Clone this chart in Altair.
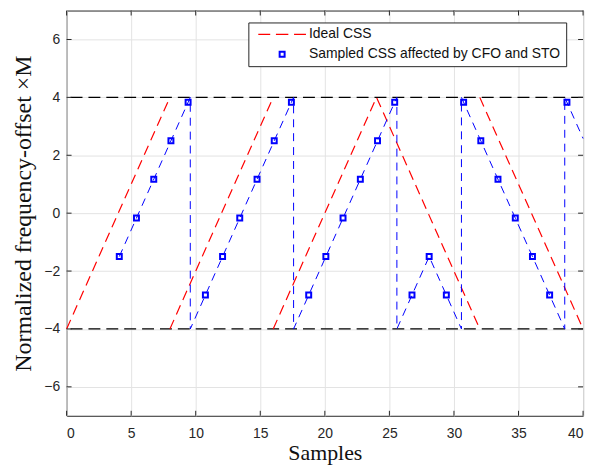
import altair as alt
import pandas as pd

# ---- data ----
red_x = [0, 8, 8, 16, 16, 24, 32, 32, 40]
red_y = [-4, 4, -4, 4, -4, 4, -4, 4, -4]
red_seg = [0, 0, 1, 1, 2, 2, 2, 3, 3]

blue_line_x = [4.08, 9.58, 9.58, 17.58, 17.58, 25.58, 25.58, 28.08, 30.58, 30.58, 38.58, 38.58, 40]
blue_line_y = [-1.5, 4, -4, 4, -4, 4, -4, -1.5, -4, 4, -4, 4, 2.58]

sample_x = [4.08, 5.41, 6.75, 8.08, 9.41, 10.75, 12.08, 13.41, 14.75, 16.08, 17.41,
            18.75, 20.08, 21.41, 22.75, 24.08, 25.41, 26.75, 28.08, 29.41, 30.75,
            32.08, 33.41, 34.75, 36.08, 37.41, 38.75]
sample_y = [-1.5, -0.17, 1.17, 2.5, 3.83, -2.83, -1.5, -0.17, 1.17, 2.5, 3.83,
            -2.83, -1.5, -0.17, 1.17, 2.5, 3.83, -2.83, -1.5, -2.83, 3.83,
            2.5, 1.17, -0.17, -1.5, -2.83, 3.83]

bound_y = [4, -4]
x_ticks = [0, 5, 10, 15, 20, 25, 30, 35, 40]
y_ticks = [-6, -4, -2, 0, 2, 4, 6]
series_names = ["Ideal CSS", "Sampled CSS affected by CFO and STO"]

W, H = 520, 408

red_df = pd.DataFrame({"x": red_x, "y": red_y, "seg": red_seg, "i": range(len(red_x))})
blue_df = pd.DataFrame({"x": blue_line_x, "y": blue_line_y, "i": range(len(blue_line_x))})
pts_df = pd.DataFrame({"x": sample_x, "y": sample_y, "series": series_names[1]})
bound_df = pd.DataFrame({"y": bound_y})
xt_df = pd.DataFrame({"x": x_ticks})
yt_df = pd.DataFrame({"y": y_ticks})

xscale = alt.Scale(domain=[0, 40], nice=False, zero=False)
yscale = alt.Scale(domain=[-7, 7], nice=False, zero=False)

xaxis = alt.Axis(values=x_ticks, title="Samples", grid=True, domain=False, ticks=False,
                 labelPadding=11, titlePadding=2, titleFontSize=22)
yaxis = alt.Axis(values=y_ticks, title="Normalized frequency-offset ×M", grid=True,
                 domain=False, ticks=False, labelPadding=7, titlePadding=8, titleFontSize=24)

base_x = alt.X("x:Q", scale=xscale, axis=xaxis)
base_y = alt.Y("y:Q", scale=yscale, axis=yaxis)

bounds = alt.Chart(bound_df).mark_rule(color="black", strokeDash=[12, 6], strokeWidth=1.2).encode(
    y=alt.Y("y:Q", scale=yscale, axis=yaxis)
)

red = alt.Chart(red_df).mark_line(color="#ff0000", strokeDash=[10, 6], strokeWidth=1.2).encode(
    x=base_x, y=base_y, detail="seg:N", order="i:Q"
)

blue = alt.Chart(blue_df).mark_line(color="#0000ff", strokeDash=[8, 6], strokeWidth=1).encode(
    x=base_x, y=base_y, order="i:Q"
)

dash_path = "M-9.6,0H-4.8M-2.5,0H2.5M4.8,0H9.6"

pts = alt.Chart(pts_df).mark_point(filled=False, size=25, opacity=1).encode(
    x=base_x, y=base_y,
    color=alt.Color("series:N", scale=alt.Scale(domain=series_names, range=["#ff0000", "#0000ff"]),
                    legend=alt.Legend(title=None)),
    shape=alt.Shape("series:N", scale=alt.Scale(domain=series_names, range=[dash_path, "square"]),
                    legend=alt.Legend(title=None)),
    strokeWidth=alt.StrokeWidth("series:N", scale=alt.Scale(type="ordinal", domain=series_names, range=[1.2, 2]),
                                legend=alt.Legend(title=None)),
)

tick_col = "#262626"
yt_left = alt.Chart(yt_df).mark_rule(color=tick_col).encode(
    y=alt.Y("y:Q", scale=yscale, axis=yaxis), x=alt.value(0), x2=alt.value(5))
yt_right = alt.Chart(yt_df).mark_rule(color=tick_col).encode(
    y=alt.Y("y:Q", scale=yscale, axis=yaxis), x=alt.value(W - 5), x2=alt.value(W))
xt_bottom = alt.Chart(xt_df).mark_rule(color=tick_col).encode(
    x=alt.X("x:Q", scale=xscale, axis=xaxis), y=alt.value(H - 5), y2=alt.value(H))
xt_top = alt.Chart(xt_df).mark_rule(color=tick_col).encode(
    x=alt.X("x:Q", scale=xscale, axis=xaxis), y=alt.value(0), y2=alt.value(5))

chart = alt.layer(bounds, red, blue, pts, yt_left, yt_right, xt_bottom, xt_top).properties(
    width=W, height=H, padding={"left": 4, "top": 0, "right": 8, "bottom": 0}
).configure_view(
    stroke="#262626", strokeWidth=1
).configure_axis(
    gridColor="#e3e3e3", gridWidth=1,
    labelFont="Liberation Sans", labelFontSize=14, labelColor="#262626",
    titleFont="Liberation Serif", titleFontWeight="normal", titleColor="#111111",
).configure_legend(
    orient="none", legendX=183, legendY=12,
    fillColor="white", strokeColor="#262626", padding=5,
    symbolSize=25, symbolOffset=22, labelOffset=20, labelLimit=0,
    labelFont="Liberation Sans", labelFontSize=14, labelColor="#111111",
    rowPadding=6, symbolStrokeWidth=2
)

chart.save("out.html", embed_options={"renderer": "svg", "actions": False})
